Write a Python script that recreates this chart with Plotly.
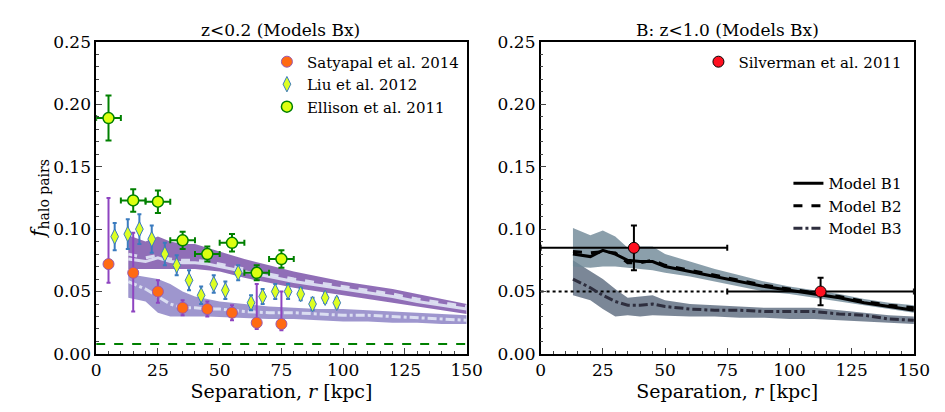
import plotly.graph_objects as go
from plotly.subplots import make_subplots

# Beobachtungen links
ell_r = [5, 15, 25, 35, 45, 55, 65, 75]
ell_f = [0.189, 0.123, 0.122, 0.091, 0.080, 0.089, 0.065, 0.076]
ell_err = [0.018, 0.009, 0.009, 0.007, 0.006, 0.007, 0.006, 0.007]

sat_r = [5, 15, 25, 35, 45, 55, 65, 75]
sat_f = [0.072, 0.065, 0.050, 0.037, 0.036, 0.033, 0.025, 0.024]
sat_up = [0.053, 0.032, 0.009, 0.006, 0.006, 0.006, 0.031, 0.026]
sat_lo = [0.015, 0.031, 0.009, 0.006, 0.006, 0.006, 0.005, 0.005]

liu_r = [7.5, 12.8, 17.5, 22.5, 27.8, 32.6, 37.6, 42.5, 47.6, 52.3, 57.5, 62.7, 67.4, 72.5, 77.7, 82.8, 87.6, 92.7, 97.4]
liu_f = [0.094, 0.096, 0.100, 0.092, 0.080, 0.071, 0.059, 0.047, 0.056, 0.051, 0.065, 0.041, 0.046, 0.050, 0.050, 0.048, 0.040, 0.045, 0.041]
liu_err = [0.011, 0.012, 0.012, 0.011, 0.009, 0.008, 0.008, 0.007, 0.007, 0.007, 0.006, 0.006, 0.006, 0.006, 0.006, 0.005, 0.005, 0.004, 0.004]

# Modelle links
r_mod = [13, 20, 25, 30, 35, 40, 45, 50, 60, 70, 80, 90, 100, 110, 120, 130, 140, 150]
L_b1 = [0.076, 0.074, 0.077, 0.074, 0.073, 0.073, 0.072, 0.070, 0.066, 0.062, 0.058, 0.055, 0.052, 0.049, 0.046, 0.042, 0.039, 0.036]
L_b2 = [0.080, 0.077, 0.079, 0.076, 0.075, 0.075, 0.074, 0.072, 0.068, 0.064, 0.060, 0.057, 0.054, 0.051, 0.048, 0.044, 0.041, 0.038]
L_top = [0.095, 0.090, 0.094, 0.090, 0.088, 0.088, 0.085, 0.082, 0.076, 0.071, 0.066, 0.062, 0.058, 0.055, 0.052, 0.048, 0.044, 0.040]
L_bot = [0.068, 0.068, 0.068, 0.068, 0.068, 0.068, 0.067, 0.066, 0.061, 0.057, 0.053, 0.050, 0.047, 0.044, 0.041, 0.038, 0.035, 0.032]
L_b3 = [0.058, 0.052, 0.046, 0.040, 0.037, 0.037, 0.036, 0.036, 0.034, 0.033, 0.033, 0.032, 0.031, 0.031, 0.030, 0.029, 0.028, 0.027]
L_b3top = [0.064, 0.062, 0.060, 0.056, 0.050, 0.046, 0.044, 0.042, 0.040, 0.038, 0.037, 0.036, 0.036, 0.035, 0.034, 0.033, 0.032, 0.031]
L_b3bot = [0.045, 0.042, 0.033, 0.030, 0.030, 0.030, 0.030, 0.030, 0.029, 0.028, 0.028, 0.027, 0.026, 0.026, 0.025, 0.025, 0.024, 0.024]

# Modelle rechts
R_b1 = [0.080, 0.078, 0.083, 0.080, 0.075, 0.074, 0.074, 0.070, 0.066, 0.062, 0.058, 0.054, 0.051, 0.048, 0.045, 0.041, 0.038, 0.035]
R_b2 = [0.082, 0.081, 0.082, 0.081, 0.073, 0.073, 0.075, 0.071, 0.067, 0.063, 0.059, 0.055, 0.052, 0.049, 0.046, 0.042, 0.039, 0.037]
R_top = [0.101, 0.095, 0.099, 0.094, 0.085, 0.086, 0.086, 0.080, 0.074, 0.068, 0.063, 0.058, 0.054, 0.051, 0.048, 0.044, 0.041, 0.039]
R_bot = [0.070, 0.069, 0.070, 0.070, 0.069, 0.068, 0.067, 0.065, 0.062, 0.058, 0.054, 0.050, 0.048, 0.045, 0.042, 0.039, 0.036, 0.033]
R_b3 = [0.060, 0.053, 0.047, 0.042, 0.039, 0.039, 0.040, 0.038, 0.036, 0.035, 0.035, 0.034, 0.034, 0.034, 0.032, 0.031, 0.028, 0.027]
R_b3top = [0.075, 0.066, 0.060, 0.052, 0.045, 0.046, 0.047, 0.043, 0.040, 0.039, 0.038, 0.037, 0.037, 0.037, 0.035, 0.033, 0.031, 0.030]
R_b3bot = [0.047, 0.043, 0.036, 0.030, 0.031, 0.030, 0.031, 0.031, 0.030, 0.030, 0.029, 0.029, 0.028, 0.028, 0.027, 0.026, 0.025, 0.024]

sil_r = [37.5, 112.5]
sil_f = [0.085, 0.050]
sil_xerr = [37.5, 37.5]
sil_err = [0.018, 0.011]

FONT = "DejaVu Serif"

fig = make_subplots(rows=1, cols=2)


def band(top, bot, color, col):
    fig.add_trace(go.Scatter(x=r_mod + r_mod[::-1], y=top + bot[::-1], fill="toself",
                             fillcolor=color, line=dict(width=0), mode="lines",
                             hoverinfo="skip", showlegend=False), row=1, col=col)


# links: Baender + Linien
band(L_b3top, L_b3bot, "rgba(125,115,190,0.75)", 1)
band(L_top, L_bot, "rgba(125,85,170,0.85)", 1)
lc = "rgba(225,230,245,0.9)"
fig.add_trace(go.Scatter(x=r_mod, y=L_b1, mode="lines", line=dict(color=lc, width=3), showlegend=False), row=1, col=1)
fig.add_trace(go.Scatter(x=r_mod, y=L_b2, mode="lines", line=dict(color=lc, width=3, dash="dash"), showlegend=False), row=1, col=1)
fig.add_trace(go.Scatter(x=r_mod, y=L_b3, mode="lines", line=dict(color=lc, width=3, dash="dashdot"), showlegend=False), row=1, col=1)
fig.add_trace(go.Scatter(x=[0, 150], y=[0.008, 0.008], mode="lines",
                         line=dict(color="green", width=2, dash="dash"), showlegend=False), row=1, col=1)

fig.add_trace(go.Scatter(x=sat_r, y=sat_f, mode="markers", name="Satyapal et al. 2014",
                         error_y=dict(type="data", array=sat_up, arrayminus=sat_lo, color="#8e44c0", thickness=2, width=2),
                         marker=dict(size=11, color="#ff6a13", line=dict(color="#9a5ab0", width=1)),
                         legend="legend"), row=1, col=1)
fig.add_trace(go.Scatter(x=liu_r, y=liu_f, mode="markers", name="Liu et al. 2012",
                         error_y=dict(type="data", array=liu_err, color="#3a7bbf", thickness=2, width=2),
                         marker=dict(size=11, symbol="diamond-tall", color="#ddff22", line=dict(color="#3a7bbf", width=1)),
                         legend="legend"), row=1, col=1)
fig.add_trace(go.Scatter(x=ell_r, y=ell_f, mode="markers", name="Ellison et al. 2011",
                         error_x=dict(type="constant", value=5, color="green", thickness=2, width=3),
                         error_y=dict(type="data", array=ell_err, color="green", thickness=2, width=3),
                         marker=dict(size=11, color="#ddff11", line=dict(color="green", width=1.5)),
                         legend="legend"), row=1, col=1)

# rechts
band(R_b3top, R_b3bot, "rgba(90,105,125,0.8)", 2)
band(R_top, R_bot, "rgba(110,135,150,0.8)", 2)
fig.add_trace(go.Scatter(x=[0, 75], y=[0.05, 0.05], mode="lines",
                         line=dict(color="black", width=2, dash="dot"), showlegend=False), row=1, col=2)
fig.add_trace(go.Scatter(x=r_mod, y=R_b1, mode="lines", name="Model B1", line=dict(color="black", width=3), legend="legend2"), row=1, col=2)
fig.add_trace(go.Scatter(x=r_mod, y=R_b2, mode="lines", name="Model B2", line=dict(color="black", width=3, dash="dash"), legend="legend2"), row=1, col=2)
fig.add_trace(go.Scatter(x=r_mod, y=R_b3, mode="lines", name="Model B3", line=dict(color="#2e2e3e", width=3, dash="dashdot"), legend="legend2"), row=1, col=2)
fig.add_trace(go.Scatter(x=sil_r, y=sil_f, mode="markers", name="Silverman et al. 2011",
                         error_x=dict(type="data", array=sil_xerr, color="black", thickness=2, width=3),
                         error_y=dict(type="data", array=sil_err, color="black", thickness=2, width=3),
                         marker=dict(size=11, color="#ff1020", line=dict(color="black", width=1)),
                         legend="legend3"), row=1, col=2)

tf = dict(family=FONT, size=17, color="black")
ax = dict(range=[0, 150], tickvals=[0, 25, 50, 75, 100, 125, 150], ticks="inside", ticklen=6,
          showline=True, mirror=True, linecolor="black", linewidth=1.5, showgrid=False, zeroline=False,
          tickfont=tf, minor=dict(ticks="inside", ticklen=3, dtick=5))
ay = dict(range=[0, 0.25], tickvals=[0, 0.05, 0.1, 0.15, 0.2, 0.25],
          ticktext=["0.00", "0.05", "0.10", "0.15", "0.20", "0.25"], ticks="inside", ticklen=6,
          showline=True, mirror=True, linecolor="black", linewidth=1.5, showgrid=False, zeroline=False,
          tickfont=tf, minor=dict(ticks="inside", ticklen=3, dtick=0.01))

fig.update_xaxes(**ax, title=dict(text="Separation, <i>r</i> [kpc]", font=dict(family=FONT, size=19), standoff=4))
fig.update_yaxes(**ay)
lf = dict(family=FONT, size=15, color="black")
fig.update_layout(
    width=945, height=412, margin=dict(l=0, r=0, t=0, b=0),
    plot_bgcolor="white", paper_bgcolor="white",
    font=dict(family=FONT, color="black"),
    xaxis=dict(domain=[0.09, 0.491]), xaxis2=dict(domain=[0.571, 0.975]),
    yaxis=dict(domain=[0.143, 0.939], title=dict(text="<i>f</i><sub>halo pairs</sub>", font=dict(family=FONT, size=20), standoff=2)),
    yaxis2=dict(domain=[0.143, 0.939]),
    legend=dict(x=0.488, y=0.93, xanchor="right", yanchor="top", bgcolor="rgba(0,0,0,0)", font=lf),
    legend2=dict(x=0.968, y=0.62, xanchor="right", yanchor="top", bgcolor="rgba(0,0,0,0)", font=lf),
    legend3=dict(x=0.968, y=0.93, xanchor="right", yanchor="top", bgcolor="rgba(0,0,0,0)", font=lf),
    annotations=[
        dict(text="z<0.2 (Models Bx)", x=0.29, y=0.94, xref="paper", yref="paper", xanchor="center",
             yanchor="bottom", showarrow=False, font=dict(family=FONT, size=17)),
        dict(text="B: z<1.0 (Models Bx)", x=0.773, y=0.94, xref="paper", yref="paper", xanchor="center",
             yanchor="bottom", showarrow=False, font=dict(family=FONT, size=17)),
    ],
)

fig.write_html("out.html")
